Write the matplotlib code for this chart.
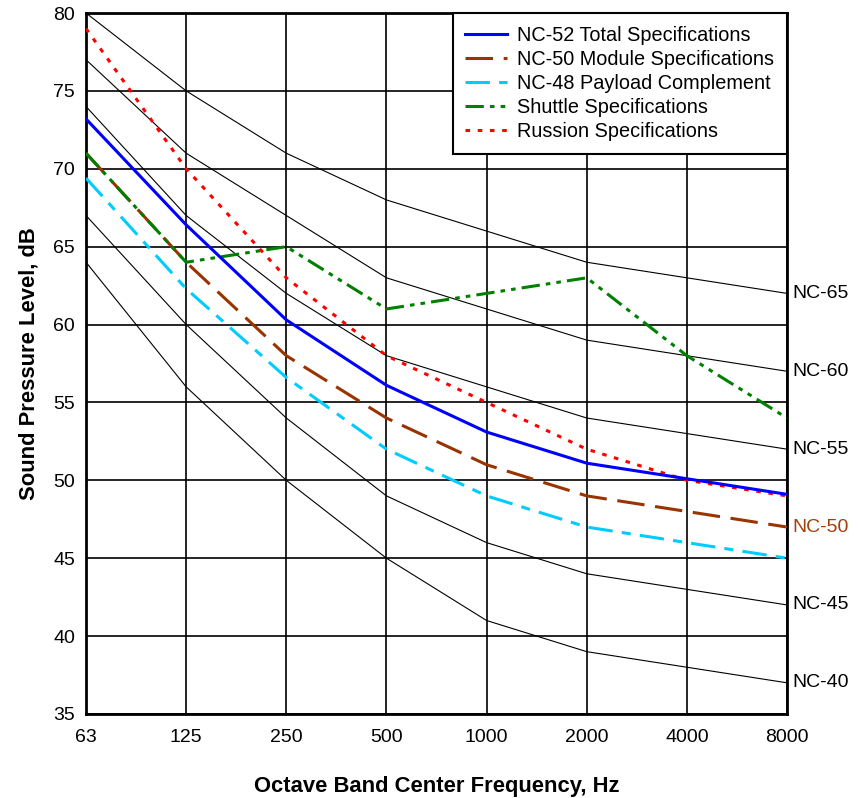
import matplotlib.pyplot as plt

plt.rcParams['font.family'] = ['Liberation Sans', 'DejaVu Sans']

freqs = ["63", "125", "250", "500", "1000", "2000", "4000", "8000"]

# NC reference curves (thin black)
nc65 = [80, 75, 71, 68, 66, 64, 63, 62]
nc60 = [77, 71, 67, 63, 61, 59, 58, 57]
nc55 = [74, 67, 62, 58, 56, 54, 53, 52]
nc45 = [67, 60, 54, 49, 46, 44, 43, 42]
nc40 = [64, 56, 50, 45, 41, 39, 38, 37]

# specification curves
nc52_total = [73.2, 66.4, 60.3, 56.1, 53.1, 51.1, 50.1, 49.1]
nc50_module = [71, 64, 58, 54, 51, 49, 48, 47]
nc48_payload = [69.4, 62.3, 56.6, 52, 49, 47, 46, 45]
shuttle = [71, 64, 65, 61, 62, 63, 58, 54]
russian = [79, 70, 63, 58, 55, 52, 50, 49]

x = list(range(len(freqs)))

fig = plt.figure(figsize=(8.61, 7.98), dpi=100)
ax = fig.add_axes([0.0999, 0.1053, 0.8142, 0.8784])

for curve, name in [(nc65, "NC-65"), (nc60, "NC-60"), (nc55, "NC-55"),
                    (nc45, "NC-45"), (nc40, "NC-40")]:
    ax.plot(x, curve, color="black", lw=0.8, zorder=2)
    ax.text(x[-1] + 0.05, curve[-1], name, fontsize=14, va="center", ha="left",
            clip_on=False)
ax.text(x[-1] + 0.05, nc50_module[-1], "NC-50", fontsize=14, va="center",
        ha="left", color="#a0400a", clip_on=False)

ax.plot(x, nc52_total, color="#0000ff", lw=2.2, label="NC-52 Total Specifications", zorder=4)
ax.plot(x, nc50_module, color="#993300", lw=2.2, dashes=(9, 3.5),
        label="NC-50 Module Specifications", zorder=3)
ax.plot(x, nc48_payload, color="#00ccff", lw=2.2, dashes=(8, 3, 3, 3),
        label="NC-48 Payload Complement", zorder=3)
ax.plot(x, shuttle, color="#008000", lw=2.2, dashes=(6, 2, 1.5, 2, 1.5, 2),
        label="Shuttle Specifications", zorder=3)
ax.plot(x, russian, color="#ff0000", lw=2.2, dashes=(1.5, 2.5),
        label="Russion Specifications", zorder=3)

ax.set_xlim(0, 7)
ax.set_ylim(35, 80)
ax.set_xticks(x)
ax.set_xticklabels(freqs)
ax.set_yticks(range(35, 81, 5))
ax.tick_params(axis="x", length=0, labelsize=14, pad=11)
ax.tick_params(axis="y", length=0, labelsize=14, pad=8)
ax.grid(True, color="black", lw=1.2)
ax.set_axisbelow(True)
for sp in ax.spines.values():
    sp.set_linewidth(2)

ax.set_xlabel("Octave Band Center Frequency, Hz", fontsize=15.8,
              fontweight="bold", va="center")
ax.xaxis.set_label_coords(0.5, -0.104)
ax.set_ylabel("Sound Pressure Level, dB", fontsize=15.8, fontweight="bold",
              labelpad=10)

leg = ax.legend(loc="upper right", fontsize=14.3, frameon=True, fancybox=False,
                borderaxespad=0, handlelength=2.1, handletextpad=0.5,
                labelspacing=0.25, borderpad=0.65)
leg.get_frame().set_edgecolor("black")
leg.get_frame().set_linewidth(1.5)
leg.get_frame().set_alpha(1)

fig.savefig("out.png", dpi=100)
